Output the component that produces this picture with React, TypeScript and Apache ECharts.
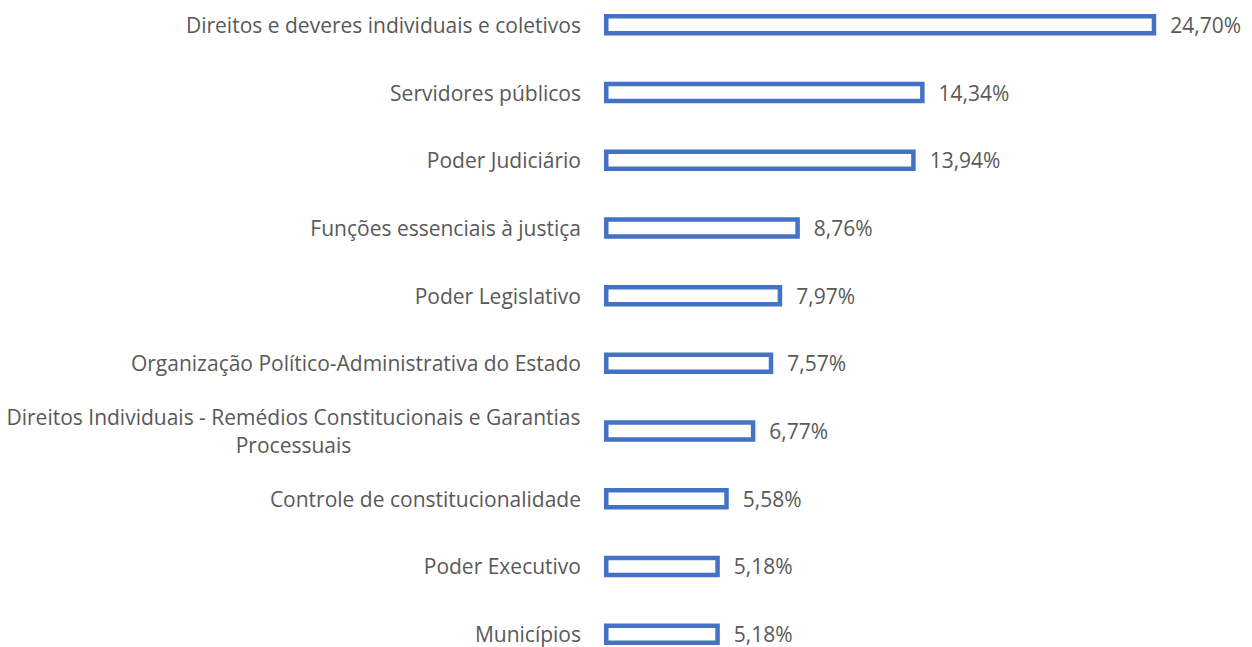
import React, { useEffect, useRef } from "react";
import * as echarts from "echarts";

const categories = [
  "Direitos e deveres individuais e coletivos",
  "Servidores públicos",
  "Poder Judiciário",
  "Funções essenciais à justiça",
  "Poder Legislativo",
  "Organização Político-Administrativa do Estado",
  "Direitos Individuais - Remédios Constitucionais e Garantias\nProcessuais",
  "Controle de constitucionalidade",
  "Poder Executivo",
  "Municípios",
];
const values = [24.7, 14.34, 13.94, 8.76, 7.97, 7.57, 6.77, 5.58, 5.18, 5.18];

const FONT = "'Open Sans', sans-serif";
const GRAY = "#595959";
const BLUE = "#4472C4";
const FS = 21;

export default function App() {
  const ref = useRef<HTMLDivElement>(null);
  useEffect(() => {
    const chart = echarts.init(ref.current!, null, { renderer: "svg" });
    chart.setOption({
      animation: false,
      grid: { left: 604, right: 22, top: 0, bottom: 0, containLabel: false },
      xAxis: {
        type: "value",
        min: 0,
        max: 28,
        show: false,
      },
      yAxis: {
        type: "category",
        data: categories,
        inverse: true,
        axisLine: { show: false },
        axisTick: { show: false },
        axisLabel: {
          margin: 23,
          color: GRAY,
          fontSize: FS,
          lineHeight: 20,
          fontFamily: FONT,
          formatter: (v: string) =>
            v.includes("\n") ? "{c|" + v.split("\n").join("}\n{c|") + "}" : v,
          rich: {
            c: {
              color: GRAY,
              fontSize: FS,
              fontFamily: FONT,
              width: 575,
              align: "center",
              lineHeight: 28,
            },
          },
        },
      },
      series: [
        {
          type: "bar",
          data: values,
          barWidth: 21.5,
          itemStyle: { color: "#ffffff", borderColor: BLUE, borderWidth: 4.5 },
          label: {
            show: true,
            position: "right",
            distance: 14,
            color: GRAY,
            fontSize: FS,
            lineHeight: 20,
            fontFamily: FONT,
            formatter: (p: any) => p.value.toFixed(2).replace(".", ",") + "%",
          },
        },
      ],
    });
    return () => chart.dispose();
  }, []);
  return (
    <div
      ref={ref}
      style={{ position: "fixed", left: 0, top: -9.5, width: 1252, height: 677, background: "#fff" }}
    />
  );
}
